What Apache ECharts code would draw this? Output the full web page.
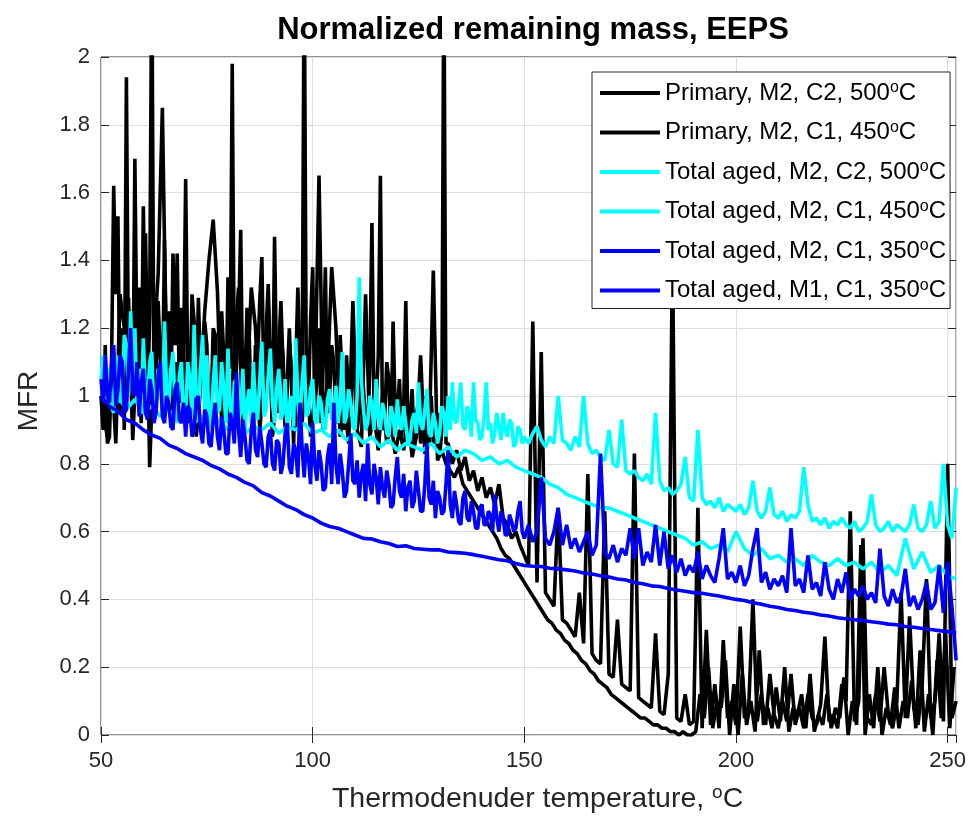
<!DOCTYPE html>
<html><head><meta charset="utf-8">
<script src="https://cdn.jsdelivr.net/npm/echarts@6/dist/echarts.min.js"></script>
<style>html,body{margin:0;padding:0;background:#fff}#chart{width:969px;height:832px}</style>
</head><body><div id="chart"></div>
<script>
// ---------- data ----------
const seriesNames = [
  'Primary, M2, C2, 500°C',
  'Primary, M2, C1, 450°C',
  'Total aged, M2, C2, 500°C',
  'Total aged, M2, C1, 450°C',
  'Total aged, M2, C1, 350°C',
  'Total aged, M1, C1, 350°C'
];
const seriesColors = ['#000000', '#000000', '#00ffff', '#00ffff', '#0000ff', '#0000ff'];
const xTicks = [50, 100, 150, 200, 250];
const yTicks = [0, 0.2, 0.4, 0.6, 0.8, 1, 1.2, 1.4, 1.6, 1.8, 2];

// Primary, M2, C2, 500°C : part 1 = 50..131.5 step 0.5, part 2 = 132..252 step 1
const primaryC2_500_p1 = [
1.00,0.90,1.15,0.86,0.88,1.10,1.62,1.30,1.53,0.95,
1.20,0.90,1.94,1.05,1.10,0.92,1.70,1.12,1.32,0.98,
1.56,1.18,0.95,1.25,2.30,1.00,1.05,1.28,1.12,0.98,
1.46,1.10,1.25,0.96,1.42,1.15,1.42,1.02,1.26,1.10,
1.64,1.05,0.98,1.30,1.22,0.96,1.29,1.08,1.05,1.22,
1.15,0.94,0.95,1.20,1.18,1.00,1.02,1.25,1.12,0.95,
1.35,1.08,1.98,1.02,1.08,1.22,1.49,0.98,1.05,1.26,
1.18,0.95,0.92,1.15,1.10,1.28,1.41,1.00,1.00,1.18,
1.15,0.94,1.47,1.05,0.95,1.18,1.12,0.92,1.02,1.15,
1.08,0.90,0.90,1.20,1.15,1.00,2.30,1.05,0.98,1.22,
1.38,0.96,1.05,1.20,0.92,1.10,1.38,0.95,1.00,1.15,
1.10,0.92,0.95,1.18,1.05,0.90,1.12,1.00,0.92,1.10,
1.08,0.90,0.95,1.15,1.02,0.92,0.90,1.08,1.51,0.95,
0.98,1.12,1.65,0.90,0.92,1.10,1.05,0.88,1.22,0.95,
0.95,1.05,0.88,0.96,1.28,0.90,0.92,1.02,0.85,0.95,
0.98,0.86,0.90,1.00,0.84,0.92,1.00,0.86,0.88,0.95,
0.82,0.90,2.30,0.86];
const primaryC2_500_p2 = [
0.86,0.80,0.84,0.78,0.82,0.75,0.78,0.72,
0.76,0.70,0.73,0.68,0.74,0.64,0.62,0.58,0.60,0.56,
0.53,0.50,1.22,0.45,1.13,0.42,0.40,0.38,0.67,0.34,
0.33,0.31,0.29,0.42,0.27,0.77,0.24,0.22,0.21,0.66,
0.18,0.17,0.34,0.15,0.14,0.13,0.83,0.11,0.10,0.09,
0.08,0.30,0.07,0.06,0.18,1.45,0.05,0.04,0.12,0.03,
0.04,0.67,0.02,0.31,0.03,0.15,0.02,0.28,0.05,0.10,
0.03,0.32,0.05,0.08,0.40,0.04,0.12,0.03,0.18,0.06,
0.02,0.10,0.04,0.18,0.03,0.08,0.02,0.12,0.05,0.03,
0.09,0.29,0.04,0.06,0.02,0.15,0.10,0.66,0.04,0.10,
0.58,0.05,0.03,0.12,0.04,0.20,0.06,0.02,0.10,0.42,
0.05,0.35,0.08,0.03,0.15,0.46,0.05,0.10,0.30,0.04,
0.80,0.05,0.10];

// Primary, M2, C1, 450°C : 50.5..251.5 step 1
const primaryC1_450 = [
0.95,0.88,1.08,0.86,1.30,1.20,1.29,0.87,1.15,0.92,
1.48,0.79,1.15,1.36,1.85,1.05,0.95,1.10,0.98,1.12,
0.92,1.10,0.88,1.02,1.25,1.40,1.52,1.31,0.92,1.05,
0.90,1.15,1.32,0.88,1.02,1.32,1.20,0.90,1.05,1.33,
0.88,1.00,1.28,0.90,1.20,0.86,1.32,0.92,1.10,0.88,
1.00,1.65,0.90,1.05,1.38,1.20,0.88,0.98,0.86,1.28,
0.90,0.85,1.30,0.88,0.95,0.84,1.00,0.86,0.92,0.83,
0.90,0.84,0.95,0.82,0.88,1.12,0.83,0.86,1.37,0.81,
0.84,0.80,0.78,0.76,0.79,0.74,0.72,0.70,0.68,0.66,
0.64,0.62,0.60,0.58,0.55,0.53,0.52,0.50,0.48,0.46,
0.44,0.42,0.40,0.38,0.36,0.34,0.33,0.31,0.30,0.28,
0.27,0.25,0.24,0.22,0.21,0.19,0.18,0.16,0.15,0.14,
0.12,0.11,0.10,0.09,0.08,0.07,0.06,0.05,0.05,0.04,
0.03,0.03,0.02,0.02,0.01,0.01,0.00,0.01,0.00,0.00,
0.01,0.12,0.05,0.20,0.02,0.10,0.08,0.22,0.00,0.15,
0.00,0.18,0.03,0.10,0.01,0.25,0.03,0.08,0.02,0.14,
0.04,0.20,0.01,0.08,0.06,0.12,0.02,0.18,0.01,0.06,
0.03,0.12,0.02,0.08,0.05,0.17,0.00,0.10,0.03,0.56,
0.00,0.12,0.02,0.20,0.00,0.08,0.03,0.14,0.02,0.10,
0.05,0.16,0.02,0.25,0.01,0.12,0.00,0.22,0.05,0.30,
0.02,0.20];

// Total aged, M2, C2, 500°C : part 1 = 50..149.5 step 0.5, part 2 = 150..252 step 1
const agedM2C2_500_p1 = [
1.05,1.12,0.98,1.06,1.08,0.97,0.95,1.12,1.10,0.98,
1.02,1.18,1.15,1.00,1.25,1.05,1.20,0.98,1.08,0.96,
1.17,1.00,0.98,1.10,1.13,0.94,0.95,1.08,1.05,0.95,
1.22,1.02,0.96,1.08,1.13,0.97,0.92,1.06,1.10,0.93,
0.95,1.10,1.05,0.94,1.21,1.00,0.93,1.08,1.18,0.96,
1.12,0.93,0.92,1.04,1.12,0.95,0.96,1.10,1.02,0.92,
1.14,0.97,0.92,1.04,1.05,0.93,0.95,1.08,0.90,0.98,
1.02,0.92,1.10,0.95,0.93,1.05,1.16,0.94,0.96,1.06,
1.14,0.98,0.92,1.02,1.08,0.93,0.95,1.05,0.90,0.97,
1.00,0.91,1.17,0.98,0.93,1.04,1.12,0.94,0.95,1.02,
1.05,0.93,0.92,1.00,0.98,0.91,0.90,0.99,1.02,0.93,
0.95,1.03,0.92,0.98,1.13,0.92,0.94,1.02,0.98,0.91,
0.90,1.00,1.35,1.05,0.96,0.90,0.92,1.00,0.98,0.90,
1.05,0.94,0.90,0.98,0.95,0.89,0.88,0.97,0.94,0.88,
0.99,0.92,0.90,0.97,0.92,0.86,0.87,0.93,0.95,0.89,
1.04,0.92,0.90,0.96,1.02,0.89,0.88,0.95,0.92,0.86,
0.89,0.97,0.95,0.88,1.00,0.90,1.04,0.93,0.92,0.98,
1.04,0.91,0.90,0.97,0.95,0.88,1.04,0.93,0.92,0.87,
0.88,0.94,1.04,0.90,0.92,0.86,0.89,0.95,0.91,0.87,
0.95,0.90,0.88,0.93,0.92,0.85,0.86,0.91,0.90,0.86];
const agedM2C2_500_p2 = [
0.88,0.86,0.89,0.91,0.87,0.85,0.88,0.86,1.00,0.87,
0.86,0.84,0.88,0.85,1.00,0.86,0.83,0.84,0.82,0.81,
0.90,0.80,0.79,0.93,0.78,0.77,0.78,0.76,0.75,0.77,
0.74,0.95,0.75,0.72,0.73,0.71,0.72,0.74,0.82,0.70,
0.69,0.90,0.70,0.68,0.69,0.67,0.70,0.66,0.68,0.67,
0.66,0.68,0.65,0.67,0.75,0.66,0.64,0.66,0.73,0.65,
0.64,0.66,0.63,0.65,0.64,0.66,0.79,0.68,0.63,0.64,
0.62,0.64,0.61,0.63,0.62,0.64,0.62,0.61,0.63,0.60,
0.61,0.63,0.71,0.62,0.60,0.61,0.63,0.60,0.62,0.61,
0.60,0.62,0.68,0.61,0.60,0.62,0.69,0.61,0.63,0.80,
0.62,0.58,0.73];

// Total aged, M2, C1, 450°C : 50..252 step 2
const agedM2C1_450 = [
1.02,0.98,1.00,0.96,0.99,0.95,0.97,0.94,0.96,0.93,
0.95,0.92,0.94,0.91,0.93,0.90,0.92,0.89,0.91,0.90,
0.92,0.89,0.91,0.90,0.92,0.89,0.90,0.88,0.90,0.87,
0.89,0.86,0.88,0.85,0.87,0.84,0.86,0.85,0.84,0.86,
0.83,0.85,0.82,0.84,0.83,0.81,0.82,0.80,0.81,0.79,
0.78,0.77,0.76,0.74,0.73,0.71,0.70,0.69,0.68,0.67,
0.67,0.66,0.65,0.64,0.63,0.62,0.61,0.60,0.59,0.58,
0.56,0.57,0.55,0.56,0.54,0.60,0.55,0.53,0.55,0.52,
0.53,0.51,0.52,0.50,0.53,0.51,0.50,0.52,0.50,0.51,
0.49,0.51,0.48,0.50,0.47,0.58,0.49,0.54,0.48,0.50,
0.47,0.46];

// Total aged, M2, C1, 350°C : part 1 = 50..149.5 step 0.5, part 2 = 150..252 step 1
const agedM2C1_350_p1 = [
1.05,0.98,1.12,1.00,0.98,1.10,1.15,0.97,1.02,1.12,
1.10,0.95,0.96,1.08,1.20,1.02,1.00,1.10,0.94,1.04,
1.08,0.95,0.93,1.05,1.02,0.92,0.95,1.06,1.10,0.94,
0.92,1.00,0.98,0.91,0.90,1.02,1.04,0.93,0.92,0.98,
0.88,0.97,0.96,0.88,0.90,0.99,1.00,0.90,0.86,0.96,
0.94,0.86,0.85,0.93,0.98,0.88,0.84,0.94,0.90,0.83,
0.83,0.95,0.92,0.86,1.07,0.90,0.82,0.93,0.88,0.81,
0.80,0.90,0.95,0.84,0.82,0.91,0.86,0.80,0.79,0.88,
0.90,0.80,0.78,0.87,0.86,0.77,0.80,0.89,0.92,0.79,
0.77,0.86,0.84,0.76,0.98,0.85,0.76,0.86,0.82,0.74,
0.92,0.80,0.75,0.84,0.80,0.72,0.73,0.82,0.86,0.74,
0.98,0.80,0.74,0.83,0.78,0.70,0.72,0.80,0.89,0.75,
0.74,0.81,0.70,0.77,0.80,0.69,0.86,0.74,0.71,0.80,
0.76,0.68,0.79,0.73,0.70,0.78,0.74,0.67,0.68,0.76,
0.82,0.72,0.70,0.77,0.66,0.73,0.75,0.67,0.69,0.78,
0.72,0.66,0.66,0.74,0.86,0.70,0.68,0.75,0.64,0.72,
0.70,0.65,0.66,0.74,0.84,0.68,0.64,0.72,0.68,0.63,
0.62,0.70,0.72,0.64,0.63,0.69,0.66,0.61,0.61,0.67,
0.68,0.62,0.62,0.66,0.65,0.60,0.71,0.64,0.60,0.66,
0.64,0.59,0.59,0.65,0.63,0.60,0.61,0.66,0.69,0.60];
const agedM2C1_350_p2 = [
0.58,0.62,0.57,0.60,0.76,0.58,0.56,0.60,0.67,0.56,
0.62,0.55,0.58,0.54,0.57,0.60,0.53,0.56,0.83,0.54,
0.52,0.56,0.51,0.55,0.53,0.61,0.52,0.61,0.50,0.54,
0.51,0.62,0.50,0.60,0.49,0.53,0.48,0.52,0.47,0.50,
0.48,0.54,0.46,0.50,0.47,0.45,0.52,0.61,0.46,0.48,
0.45,0.50,0.44,0.47,0.55,0.61,0.45,0.48,0.43,0.46,
0.44,0.47,0.42,0.61,0.44,0.46,0.42,0.53,0.43,0.45,
0.41,0.51,0.43,0.40,0.46,0.42,0.48,0.40,0.43,0.41,
0.44,0.40,0.42,0.39,0.55,0.41,0.38,0.43,0.39,0.41,
0.49,0.38,0.41,0.37,0.40,0.45,0.37,0.39,0.50,0.36,
0.51,0.38,0.22];

// Total aged, M1, C1, 350°C : 50..252 step 2
const agedM1C1_350 = [
1.00,0.97,0.955,0.93,0.92,0.90,0.885,0.875,0.855,0.845,
0.83,0.82,0.81,0.795,0.785,0.77,0.76,0.745,0.735,0.715,
0.705,0.69,0.675,0.665,0.65,0.64,0.625,0.615,0.61,0.60,
0.59,0.58,0.578,0.57,0.565,0.556,0.558,0.55,0.548,0.546,
0.546,0.54,0.538,0.536,0.532,0.527,0.522,0.517,0.514,0.506,
0.50,0.498,0.497,0.492,0.49,0.487,0.484,0.478,0.475,0.47,
0.466,0.46,0.457,0.45,0.446,0.44,0.438,0.432,0.428,0.424,
0.42,0.418,0.414,0.41,0.405,0.40,0.397,0.39,0.386,0.38,
0.376,0.37,0.367,0.362,0.359,0.354,0.351,0.346,0.343,0.34,
0.338,0.334,0.331,0.327,0.325,0.32,0.318,0.314,0.311,0.308,
0.305,0.30];

// temperature sampling of each series: list of [first temperature, step, values]
const seriesParts = [
  [[50, 0.5, primaryC2_500_p1], [132, 1, primaryC2_500_p2]],
  [[50.5, 1, primaryC1_450]],
  [[50, 0.5, agedM2C2_500_p1], [150, 1, agedM2C2_500_p2]],
  [[50, 2, agedM2C1_450]],
  [[50, 0.5, agedM2C1_350_p1], [150, 1, agedM2C1_350_p2]],
  [[50, 2, agedM1C1_350]]
];

// ---------- chart ----------
const FONT = '"Liberation Sans", Arial, Helvetica, sans-serif';
const AX = '#262626';

function toPairs(parts) {
  const out = [];
  parts.forEach(function (p) {
    p[2].forEach(function (y, i) { out.push([Math.round((p[0] + i * p[1]) * 100) / 100, y]); });
  });
  return out;
}

const chart = echarts.init(document.getElementById('chart'), null, {renderer: 'canvas'});

const series = seriesNames.map((name, k) => ({
  type: 'line',
  name: name,
  data: toPairs(seriesParts[k]),
  showSymbol: false,
  symbol: 'none',
  silent: true,
  clip: true,
  lineStyle: {width: 3.6, color: seriesColors[k]},
  itemStyle: {color: seriesColors[k]},
  xAxisIndex: 0,
  yAxisIndex: 0
}));

const tickStyle = {inside: true, length: 8, lineStyle: {color: AX, width: 1}};

const option = {
  animation: false,
  backgroundColor: '#ffffff',
  graphic: [{
    type: 'text',
    x: 533, y: 15,
    style: {
      text: 'Normalized remaining mass, EEPS',
      fontFamily: FONT, fontSize: 31, fontWeight: 'bold',
      fill: '#000', align: 'center', textAlign: 'center', verticalAlign: 'top', textVerticalAlign: 'top'
    }
  }],
  grid: {left: 101, right: 12, top: 57, bottom: 97, show: true, borderColor: AX, borderWidth: 1, backgroundColor: 'transparent'},
  xAxis: [{
    type: 'value', min: 50, max: 252, interval: 50,
    axisLine: {show: false},
    axisTick: tickStyle,
    axisLabel: {showMaxLabel: false, fontFamily: FONT, fontSize: 22, color: AX, margin: 15},
    splitLine: {show: true, lineStyle: {color: '#dedede', width: 1}},
    name: '{t|Thermodenuder temperature, }{s|o}{t|C}',
    nameLocation: 'middle', nameGap: 48,
    nameTextStyle: {
      fontFamily: FONT, fontSize: 28.5, color: AX, padding: [0, 0, 0, 18],
      rich: {
        t: {fontFamily: FONT, fontSize: 28.5, color: AX, lineHeight: 33},
        s: {fontFamily: FONT, fontSize: 19, color: AX, verticalAlign: 'top', lineHeight: 17}
      }
    }
  }, {
    type: 'value', position: 'top', min: 50, max: 252, interval: 50,
    axisLine: {show: false}, axisTick: tickStyle,
    axisLabel: {show: false}, splitLine: {show: false}
  }],
  yAxis: [{
    type: 'value', min: 0, max: 2, interval: 0.2,
    axisLine: {show: false},
    axisTick: tickStyle,
    axisLabel: {fontFamily: FONT, fontSize: 22, color: AX, margin: 11},
    splitLine: {show: true, lineStyle: {color: '#dedede', width: 1}},
    name: 'MFR', nameLocation: 'middle', nameGap: 58, nameRotate: 90,
    nameTextStyle: {fontFamily: FONT, fontSize: 28, color: AX, padding: [0, 10, 0, 0]}
  }, {
    type: 'value', position: 'right', min: 0, max: 2, interval: 0.2,
    axisLine: {show: false}, axisTick: tickStyle,
    axisLabel: {show: false}, splitLine: {show: false}
  }],
  legend: {
    orient: 'vertical', left: 592, top: 72,
    itemWidth: 60, itemHeight: 4, itemGap: 14.5, icon: 'rect',
    padding: [8, 4, 6, 8],
    backgroundColor: '#ffffff', borderColor: AX, borderWidth: 1, borderRadius: 0,
    selectedMode: false,
    data: seriesNames,
    formatter: function (name) { return '{t|' + name.replace('°C', '') + '}{s|o}{t|C}'; },
    textStyle: {
      fontFamily: FONT, fontSize: 24, color: '#000',
      rich: {
        t: {fontFamily: FONT, fontSize: 24, color: '#000', lineHeight: 26},
        s: {fontFamily: FONT, fontSize: 16, color: '#000', verticalAlign: 'top', lineHeight: 14}
      }
    }
  },
  series: series
};
chart.setOption(option);
</script>
</body></html>
